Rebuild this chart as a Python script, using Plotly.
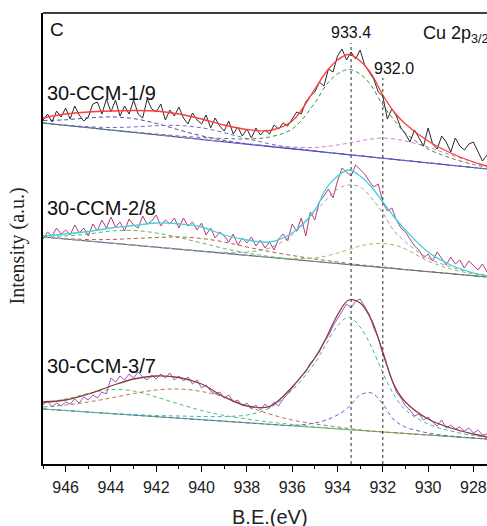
import plotly.graph_objects as go

# ---------------- data ----------------
XTICKS = [946, 944, 942, 940, 938, 936, 934, 932, 930, 928]
XTICK_TEXT = ["946", "944", "942", "940", "938", "936", "934", "932", "930", "928"]
MINOR_TICKS = [947, 945, 943, 941, 939, 937, 935, 933, 931, 929]

SAMPLES = ["30-CCM-1/9", "30-CCM-2/8", "30-CCM-3/7"]
PEAK_EV = [933.4, 932.0]
PEAK_LABELS = ["933.4", "932.0"]

# raw spectra, 0.2 eV step
DATA_EV = [
    947.0, 946.8, 946.6, 946.4, 946.2, 946.0, 945.8, 945.6, 945.4, 945.2,
    945.0, 944.8, 944.6, 944.4, 944.2, 944.0, 943.8, 943.6, 943.4, 943.2,
    943.0, 942.8, 942.6, 942.4, 942.2, 942.0, 941.8, 941.6, 941.4, 941.2,
    941.0, 940.8, 940.6, 940.4, 940.2, 940.0, 939.8, 939.6, 939.4, 939.2,
    939.0, 938.8, 938.6, 938.4, 938.2, 938.0, 937.8, 937.6, 937.4, 937.2,
    937.0, 936.8, 936.6, 936.4, 936.2, 936.0, 935.8, 935.6, 935.4, 935.2,
    935.0, 934.8, 934.6, 934.4, 934.2, 934.0, 933.8, 933.6, 933.4, 933.2,
    933.0, 932.8, 932.6, 932.4, 932.2, 932.0, 931.8, 931.6, 931.4, 931.2,
    931.0, 930.8, 930.6, 930.4, 930.2, 930.0, 929.8, 929.6, 929.4, 929.2,
    929.0, 928.8, 928.6, 928.4, 928.2, 928.0, 927.8, 927.6, 927.4,
]
S1_DATA = [
    344, 350, 342, 353, 347, 356, 345, 358, 349, 343,
    347, 360, 362, 350, 365, 352, 364, 348, 358, 350,
    364, 350, 346, 365, 355, 352, 360, 344, 354, 348,
    357, 346, 340, 351, 344, 340, 349, 336, 346, 338,
    333, 343, 330, 337, 328, 335, 326, 336, 329, 334,
    330, 339, 335, 341, 338, 345, 352, 350, 362, 368,
    372, 382, 378, 395, 392, 408, 415, 404, 412, 405,
    414, 399, 392, 385, 372, 368, 345, 355, 348, 336,
    330, 322, 334, 326, 318, 336, 320, 315, 328, 322,
    312, 326, 318, 314, 320, 322, 312, 303, 309,
]
S2_DATA = [
    225, 232, 228, 236, 230, 234, 229, 239, 231, 236,
    228, 240, 233, 244, 236, 247, 237, 242, 233, 245,
    239, 236, 248, 240, 243, 249, 238, 244, 240, 246,
    236, 246, 238, 242, 234, 241, 229, 236, 226, 232,
    228, 222, 230, 219, 226, 221, 227, 218, 224, 216,
    222, 214, 225, 230, 223, 240, 233, 246, 228, 252,
    244, 262, 268, 275, 266, 283, 296, 292, 288, 299,
    294, 290, 283, 277, 280, 262, 253, 256, 244, 236,
    232, 225, 218, 214, 206, 210, 203, 212, 206, 199,
    207, 200, 204, 196, 203, 198, 194, 200, 192,
]
S3_DATA = [
    59, 63, 57, 61, 58, 62, 60, 65, 61, 67,
    64, 69, 66, 72, 70, 86, 82, 88, 84, 90,
    86, 92, 87, 84, 89, 85, 90, 86, 91, 84,
    88, 83, 87, 80, 84, 76, 79, 73, 70, 72,
    66, 69, 62, 64, 58, 61, 55, 59, 54, 60,
    56, 62, 58, 65, 70, 76, 82, 88, 92, 101,
    106, 112, 122, 128, 138, 145, 152, 160, 156, 163,
    165, 158, 150, 136, 126, 110, 96, 84, 72, 66,
    58, 54, 48, 50, 44, 47, 42, 38, 44, 36,
    39, 35, 37, 33, 36, 31, 34, 29, 30,
]

# fitted envelopes and components
COMP_EV = [947, 946, 945, 944, 943, 942, 941, 940, 939, 938, 937, 936, 935,
           934.5, 934, 933.5, 933, 932.5, 932, 931.5, 931, 930, 929, 928, 927.4]
BASE_EV = [947, 927.4]

S1_FIT = [346, 350, 352, 353, 353.5, 353, 350, 345, 339, 334.5, 333.5, 343, 375,
          392, 404, 409.5, 403, 390, 369, 352, 340, 323, 311, 302, 298]
S1_MAIN = [341, 338.5, 336.5, 334, 332, 330, 328, 326.5, 325.5, 325, 327, 335, 361,
           379, 390, 394.5, 390, 378, 359, 344, 331, 315, 306, 299.5, 297]
S1_SAT_A = [343.5, 344.2, 346.1, 347.1, 345.4, 340.6, 334.1, 328.2, 323.7, 320.3, 317.6,
            315.2, 312.9, 311.7, 310.5, 309.4, 308.2, 307, 305.8, 304.6, 303.5, 301.2,
            298.8, 296.5, 295]
S1_SAT_B = [341, 338.9, 337.3, 336.5, 337.1, 338.3, 338.5, 336.2, 331.3, 325.4, 320.2,
            316.2, 313.2, 311.7, 310.5, 309.4, 308.2, 307, 305.8, 304.6, 303.5, 301.2,
            298.8, 296.5, 295]
S1_CU = [341, 338.6, 336.3, 334, 331.7, 329.4, 327, 324.7, 322.5, 320.3, 318.3, 317,
         316.5, 317.5, 319, 321, 323, 325, 326, 325, 323, 317, 309, 302, 298]
S1_BASE = [341, 295]

S2_FIT = [228, 230, 232.5, 236, 238.5, 241, 240, 237, 229, 224, 222, 231, 254,
          275.5, 288, 294, 288, 277, 262, 247, 234, 212, 199, 191, 188]
S2_MAIN = [227, 225, 223, 221, 219, 217, 215, 213, 211.5, 212, 216, 229, 252,
           264, 275, 279, 277, 266, 251, 233, 222, 206, 197, 191, 189]
S2_CU = [227, 224.9, 222.9, 220.9, 218.8, 216.8, 214.7, 212.7, 210.7, 208.6, 206.6,
         205.5, 206, 208, 211, 214.5, 218, 220, 220.5, 219, 215, 203, 195, 190, 188]
S2_SAT_A = [228, 228, 230, 233, 233.5, 231, 226.5, 221, 215.5, 211, 207.5, 205, 202.6,
            201.6, 200.6, 199.5, 198.5, 197.5, 196.5, 195.5, 194.4, 192.4, 190.4, 188.3, 187]
S2_SAT_B = [227.2, 225.5, 224.5, 224.5, 225.5, 226.5, 227, 225.5, 222, 217, 212.5, 208.5,
            205, 203.5, 202, 200.5, 199.2, 198, 197, 195.8, 194.4, 192.4, 190.4, 188.3, 187]
S2_BASE = [227, 187]

S3_FIT = [62, 64, 70, 78, 85, 88, 86.5, 80, 67, 58, 57.5, 77, 106,
          126, 149, 164, 161, 144, 112, 79, 62, 45, 36, 30, 27]
S3_MAIN = [55, 53.5, 52, 50.5, 49.5, 48.5, 48, 47.5, 47.5, 49, 56, 74, 101,
           120, 138, 147, 137, 117, 91, 69, 54, 40, 33, 28.5, 27]
S3_CU = [55, 53.5, 51.9, 50.4, 48.9, 47.3, 45.8, 44.3, 42.8, 41.2, 39.7, 38.5, 41,
         44, 49, 57, 69, 71, 60, 44, 37, 31, 28, 26, 25]
S3_SAT_A = [61, 65, 70.5, 74.5, 73, 67, 60, 53.5, 48.5, 45, 42, 39.5, 37.2, 36.2, 35.3,
            34.4, 33.6, 32.8, 32, 31.3, 30.5, 29, 27.5, 25.9, 25]
S3_SAT_B = [57, 59, 62, 66, 70.5, 74, 75, 72.5, 67, 58, 50, 44, 40, 38.5, 37, 35.5,
            34.2, 33, 32, 31.3, 30.5, 29, 27.5, 25.9, 25]
S3_BASE = [55, 25]

LABEL_Y = [371.5, 256, 98]
PEAK_LINE_TOP = [421, 386]

# ---------------- figure ----------------
SANS = "Liberation Sans, Arial, sans-serif"
DASH = "4px,3px"

fig = go.Figure()


def comp(y, color, dash=DASH, width=1.0):
    fig.add_trace(go.Scatter(x=COMP_EV, y=y, mode="lines", showlegend=False,
                             line=dict(color=color, width=width, dash=dash,
                                       shape="spline", smoothing=1.0),
                             hoverinfo="skip"))


def base(y, color):
    fig.add_trace(go.Scatter(x=BASE_EV, y=y, mode="lines", showlegend=False,
                             line=dict(color=color, width=1.2), hoverinfo="skip"))


def raw(y, color):
    fig.add_trace(go.Scatter(x=DATA_EV, y=y, mode="lines", showlegend=False,
                             line=dict(color=color, width=1.0), hoverinfo="skip"))


# spectrum 1
base(S1_BASE, "#3a44b8")
comp(S1_SAT_A, "#4a4ab4")
comp(S1_SAT_B, "#7a64c8")
comp(S1_CU, "#d078d8")
comp(S1_MAIN, "#3d8c4a")
raw(S1_DATA, "#2a2a2a")
comp(S1_FIT, "#ff3b3b", dash="solid", width=1.3)

# spectrum 2
base(S2_BASE, "#4a50a8")
comp(S2_SAT_A, "#5cb85c")
comp(S2_SAT_B, "#a8604c")
comp(S2_CU, "#9cbc5c")
comp(S2_MAIN, "#a0a0a0")
raw(S2_DATA, "#b83c78")
comp(S2_FIT, "#3cd4e0", dash="solid", width=1.3)

# spectrum 3
base(S3_BASE, "#6aa86a")
comp(S3_SAT_A, "#48c870")
comp(S3_SAT_B, "#b8784c")
comp(S3_CU, "#5a68d0")
comp(S3_MAIN, "#44b4b4")
raw(S3_DATA, "#9a58bc")
comp(S3_FIT, "#8c3c3c", dash="solid", width=1.3)

# reference lines at peak positions
for ev, top in zip(PEAK_EV, PEAK_LINE_TOP):
    fig.add_trace(go.Scatter(x=[ev, ev], y=[0, top], mode="lines", showlegend=False,
                             line=dict(color="#404040", width=1.1, dash="3px,3px"),
                             hoverinfo="skip"))

annotations = [
    dict(x=946.78, y=435, text="C", xanchor="left", yanchor="middle",
         font=dict(size=19, family=SANS, color="#111")),
    dict(x=PEAK_EV[0], y=432, text=PEAK_LABELS[0], xanchor="center", yanchor="middle",
         font=dict(size=16, family=SANS, color="#111")),
    dict(x=931.52, y=396, text=PEAK_LABELS[1], xanchor="center", yanchor="middle",
         font=dict(size=16, family=SANS, color="#111")),
    dict(x=930.3, y=430, text="Cu 2p<sub>3/2</sub>", xanchor="left", yanchor="middle",
         font=dict(size=18, family=SANS, color="#111")),
]
for name, ly in zip(SAMPLES, LABEL_Y):
    annotations.append(dict(x=946.93, y=ly, text=name, xanchor="left", yanchor="middle",
                            font=dict(size=20, family=SANS, color="#111")))
annotations.append(dict(x=0.511, y=-0.1175, xref="paper", yref="paper", text="B.E.(eV)",
                        xanchor="center", yanchor="middle", showarrow=False,
                        font=dict(size=20, family=SANS, color="#222")))
annotations.append(dict(x=-0.0574, y=0.4834, xref="paper", yref="paper",
                        text="Intensity (a.u.)", textangle=-90,
                        xanchor="center", yanchor="middle", showarrow=False,
                        font=dict(size=20, family="Liberation Serif, Times New Roman, serif",
                                  color="#222")))
for a in annotations:
    a.setdefault("showarrow", False)
    a.setdefault("xref", "x")
    a.setdefault("yref", "y")

fig.update_layout(
    width=487, height=526,
    margin=dict(l=43, r=0, t=13, b=62),
    paper_bgcolor="white", plot_bgcolor="white",
    annotations=annotations,
    shapes=[dict(type="line", xref="paper", yref="paper", x0=0, x1=1, y0=1, y1=1,
                 line=dict(color="black", width=1.5))],
)
fig.update_xaxes(range=[947.0, 927.4], showline=True, linecolor="black", linewidth=1.5,
                 ticks="outside", ticklen=6, tickwidth=1, tickcolor="black",
                 tickvals=XTICKS, ticktext=XTICK_TEXT, ticklabelstandoff=2,
                 minor=dict(ticks="outside", ticklen=3, tickwidth=1, tickcolor="black",
                            tickvals=MINOR_TICKS),
                 showgrid=False, zeroline=False,
                 tickfont=dict(size=16, family=SANS, color="#222"))
fig.update_yaxes(range=[0, 451], showline=True, linecolor="black", linewidth=2,
                 showticklabels=False, ticks="", showgrid=False, zeroline=False)

# remove the default page margin so the 487x526 figure fills the window exactly
fig.write_html(
    "out.html",
    config={"displayModeBar": False},
    post_script="document.body.style.margin='0';document.body.style.overflow='hidden';",
)
